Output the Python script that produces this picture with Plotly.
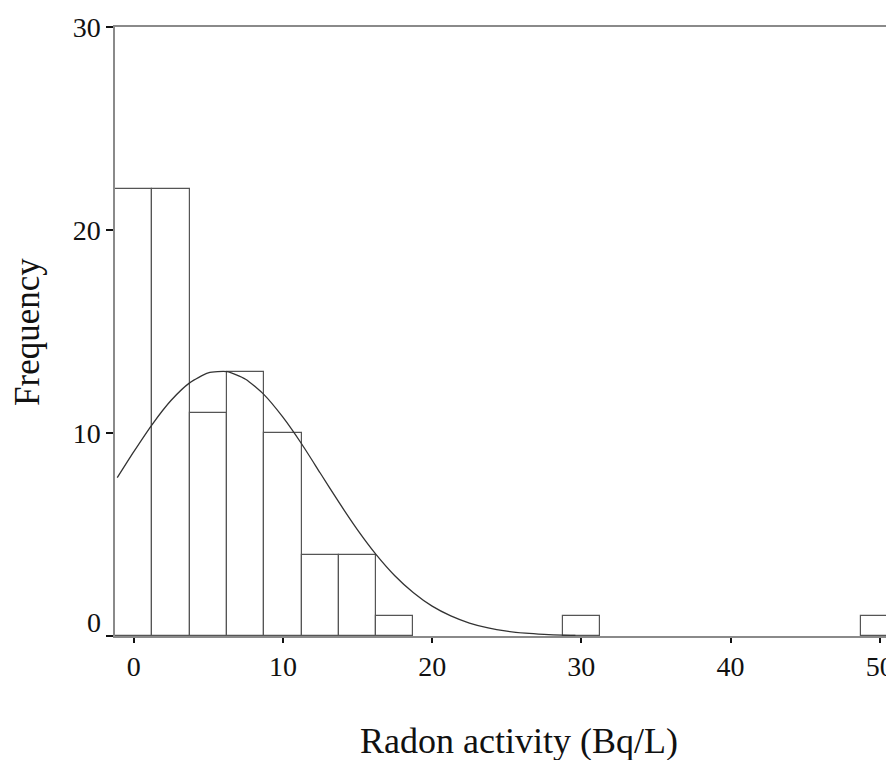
import plotly.graph_objects as go

# Histogram (bin width 2.5, bins centred on multiples of 2.5)
bin_centers = [0, 2.5, 5, 7.5, 10, 12.5, 15, 17.5, 30, 50]
frequencies = [22, 22, 11, 13, 10, 4, 4, 1, 1, 1]
bin_width = 2.5

# Normal curve overlay
curve_x = [-1.1, 0, 1.25, 2.5, 3.75, 5, 6.25, 7.5, 8.75, 10, 11.25, 12.5, 13.75,
           15, 16.25, 17.5, 18.75, 20, 21.25, 22.5, 23.75, 25, 26.25, 27.5, 28.75, 29.6]
curve_y = [7.80, 9.07, 10.43, 11.60, 12.47, 12.96, 13.02, 12.65, 11.88, 10.78, 9.47, 8.03, 6.59,
           5.23, 4.01, 2.97, 2.13, 1.47, 0.99, 0.64, 0.40, 0.24, 0.14, 0.08, 0.04, 0.03]

x_ticks = [0, 10, 20, 30, 40, 50]
y_ticks = [0, 10, 20, 30]
y_range = [0, 30]
x_title = "Radon activity (Bq/L)"
y_title = "Frequency"

FONT = "Liberation Serif"
TICKFONT = dict(family=FONT, size=28, color="#111111")

fig = go.Figure()
fig.add_trace(go.Bar(
    x=bin_centers, y=frequencies, width=[bin_width] * len(bin_centers),
    marker=dict(color="white", line=dict(color="#555555", width=1.2)),
    showlegend=False, hoverinfo="x+y",
))
fig.add_trace(go.Scatter(
    x=curve_x, y=curve_y, mode="lines",
    line=dict(color="#333333", width=1.3, shape="spline", smoothing=0.6),
    showlegend=False,
))

# the "0" label of the y axis sits slightly raised above its tick (as in the original)
main_labels = ["" if v == 0 else str(v) for v in y_ticks]

fig.update_layout(
    width=886, height=752,
    margin=dict(l=107, r=0, t=19, b=124),
    paper_bgcolor="white", plot_bgcolor="white",
    font=dict(family=FONT, color="#111111"),
    bargap=0,
    xaxis=dict(
        range=[-1.25, 50.68], tickvals=x_ticks, ticktext=[str(v) for v in x_ticks],
        showgrid=False, zeroline=False,
        showline=True, linecolor="#8a8a8a", linewidth=1.5, mirror=True,
        ticks="outside", ticklen=5, tickwidth=2, tickcolor="#111111",
        ticklabeloverflow="allow",
        tickfont=TICKFONT,
    ),
    yaxis=dict(
        range=y_range, tickvals=y_ticks, ticktext=main_labels,
        showgrid=False, zeroline=False,
        showline=True, linecolor="#8a8a8a", linewidth=1.5,
        ticks="outside", ticklen=7, tickwidth=2, tickcolor="#111111",
        tickfont=TICKFONT,
    ),
    annotations=[
        dict(text="0", xref="paper", yref="y", x=0, y=y_ticks[0],
             xanchor="right", yanchor="middle", xshift=-12, yshift=14,
             showarrow=False, font=TICKFONT),
        dict(text=x_title, xref="paper", yref="paper", x=0.521, y=-0.172,
             xanchor="center", yanchor="middle", showarrow=False,
             font=dict(family=FONT, size=36, color="#111111")),
        dict(text=y_title, xref="paper", yref="paper", x=-0.113, y=0.5,
             xanchor="center", yanchor="middle", showarrow=False, textangle=-90,
             font=dict(family=FONT, size=35, color="#111111")),
    ],
)

fig.write_html("out.html")
